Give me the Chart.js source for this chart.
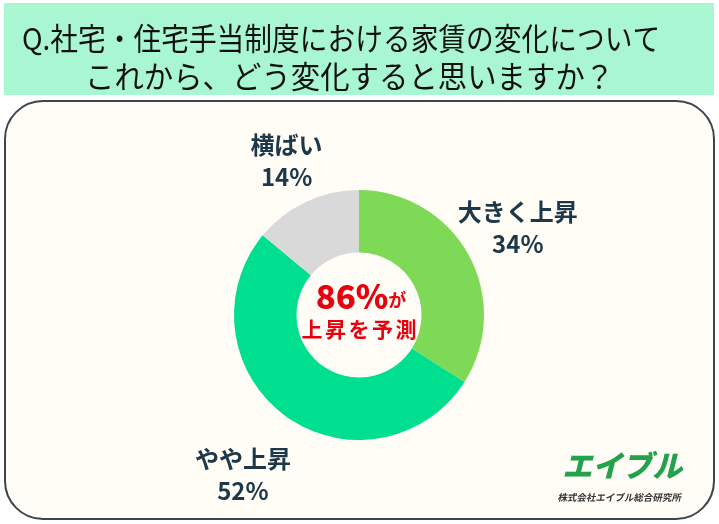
<!DOCTYPE html>
<html><head><meta charset="utf-8">
<script src="https://cdn.jsdelivr.net/npm/chart.js@4"></script>
<style>html,body{margin:0;padding:0;background:#ffffff;}#wrap{width:719px;height:524px;position:relative;}</style>
</head><body><div id="wrap"><canvas id="c" width="719" height="524"></canvas></div>
<script>
const categories = ['大きく上昇', 'やや上昇', '横ばい'];
const values = [34, 52, 14];
const percentLabels = ['34%', '52%', '14%'];
const colors = ['#7ED957', '#00DE8F', '#D9D9D9'];
const titleLines = ['Q.社宅・住宅手当制度における家賃の変化について', 'これから、どう変化すると思いますか？'];
const centerMain = '86%';
const centerSuffix = 'が';
const centerSub = '上昇を予測';
const logoText = 'エイブル';
const logoSub = '株式会社エイブル総合研究所';

const JP = '"Noto Sans CJK JP", "Noto Sans", sans-serif';
const labelDist = [1.45, 1.58, 1.36];

function rr(ctx, x, y, w, h, r) {
  ctx.beginPath();
  ctx.moveTo(x + r, y);
  ctx.lineTo(x + w - r, y);
  ctx.arcTo(x + w, y, x + w, y + r, r);
  ctx.lineTo(x + w, y + h - r);
  ctx.arcTo(x + w, y + h, x + w - r, y + h, r);
  ctx.lineTo(x + r, y + h);
  ctx.arcTo(x, y + h, x, y + h - r, r);
  ctx.lineTo(x, y + r);
  ctx.arcTo(x, y, x + r, y, r);
  ctx.closePath();
}

const decor = {
  id: 'decor',
  beforeDraw(chart) {
    const ctx = chart.ctx;
    ctx.save();
    ctx.fillStyle = '#ffffff';
    ctx.fillRect(0, 0, 719, 524);
    // banner
    ctx.fillStyle = '#A8F7D2';
    ctx.fillRect(4, 3, 710, 92);
    ctx.fillStyle = '#111111';
    ctx.font = '400 28px ' + JP;
    ctx.textBaseline = 'alphabetic';
    ctx.textAlign = 'left';
    ctx.save();
    ctx.translate(22, 50);
    ctx.scale(0.99, 1.08);
    ctx.fillText(titleLines[0], 0, 0);
    ctx.restore();
    ctx.save();
    ctx.translate(85, 88);
    ctx.scale(1.05, 1.08);
    ctx.fillText(titleLines[1], 0, 0);
    ctx.restore();
    // panel
    rr(ctx, 5, 101, 709, 418, 38);
    ctx.fillStyle = '#FFFDF6';
    ctx.fill();
    ctx.lineWidth = 2;
    ctx.strokeStyle = '#3A4650';
    ctx.stroke();
    ctx.restore();
  },
  afterDraw(chart) {
    const ctx = chart.ctx;
    const meta = chart.getDatasetMeta(0);
    ctx.save();
    ctx.textAlign = 'center';
    ctx.textBaseline = 'middle';
    meta.data.forEach((arc, i) => {
      const mid = (arc.startAngle + arc.endAngle) / 2;
      const d = arc.outerRadius * labelDist[i];
      const x = arc.x + Math.cos(mid) * d;
      const y = arc.y + Math.sin(mid) * d;
      ctx.fillStyle = '#1E384B';
      ctx.font = '700 24px ' + JP;
      ctx.fillText(categories[i], x, y - 16);
      ctx.fillText(percentLabels[i], x, y + 16);
    });
    // center text
    const a0 = meta.data[0];
    const cx = a0.x, cy = a0.y;
    ctx.fillStyle = '#E8000E';
    ctx.font = '900 33px ' + JP;
    const w1 = ctx.measureText(centerMain).width;
    ctx.font = '700 18px ' + JP;
    const w2 = ctx.measureText(centerSuffix).width;
    const sx = cx - (w1 + w2) / 2 + 2;
    ctx.textAlign = 'left';
    ctx.font = '900 33px ' + JP;
    ctx.fillText(centerMain, sx, cy - 19);
    ctx.font = '700 18px ' + JP;
    ctx.fillText(centerSuffix, sx + w1, cy - 15);
    ctx.font = '700 21px ' + JP;
    ctx.textAlign = 'center';
    const chars = centerSub.split('');
    const step = 23.5;
    chars.forEach((ch, k) => {
      ctx.fillText(ch, cx + (k - (chars.length - 1) / 2) * step, cy + 14);
    });
    // logo
    ctx.save();
    ctx.translate(625, 466);
    ctx.transform(1, 0, -0.25, 1, 0, 0);
    ctx.fillStyle = '#22A24A';
    ctx.font = '900 30px ' + JP;
    ctx.textAlign = 'center';
    ctx.fillText(logoText, 0, 0);
    ctx.restore();
    ctx.save();
    ctx.translate(620, 497);
    ctx.transform(1, 0, -0.2, 1, 0, 0);
    ctx.fillStyle = '#333333';
    ctx.font = '700 9.5px ' + JP;
    ctx.textAlign = 'center';
    ctx.fillText(logoSub, 0, 0);
    ctx.restore();
    ctx.restore();
  }
};

new Chart(document.getElementById('c'), {
  type: 'doughnut',
  data: {
    labels: categories,
    datasets: [{ data: values, backgroundColor: colors, borderWidth: 0, hoverOffset: 0 }]
  },
  options: {
    responsive: false,
    animation: false,
    cutout: '50%',
    layout: { padding: { left: 234, right: 235, top: 190, bottom: 84 } },
    plugins: { legend: { display: false }, tooltip: { enabled: false } }
  },
  plugins: [decor]
});
</script>
</body></html>
